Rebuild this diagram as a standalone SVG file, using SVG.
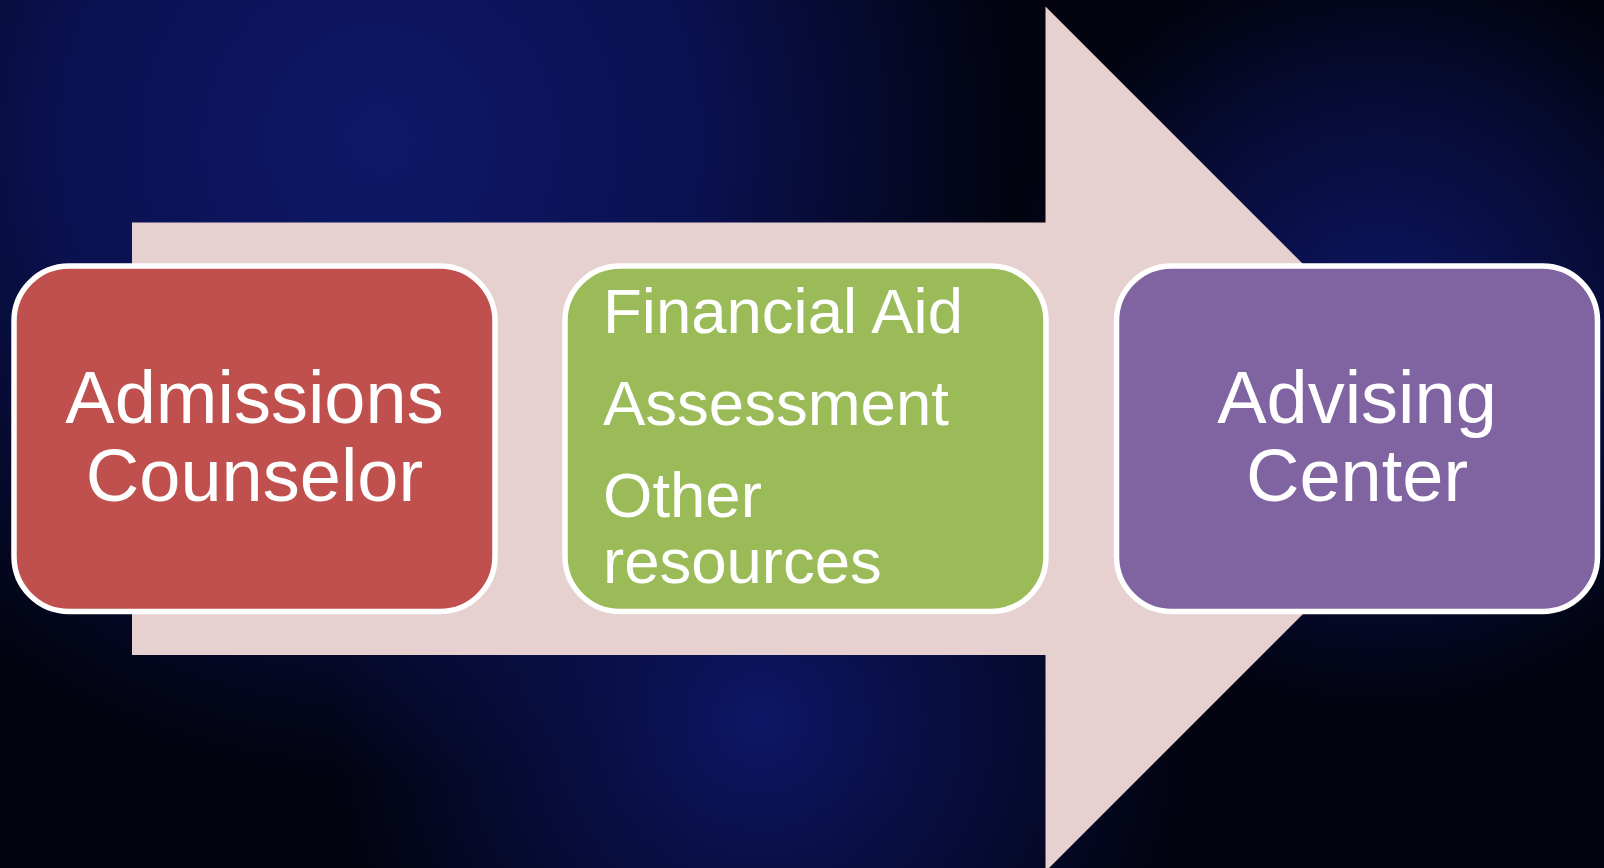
<svg xmlns="http://www.w3.org/2000/svg" width="1604" height="868" viewBox="0 0 1604 868">
<defs>
<radialGradient id="g1" cx="380" cy="140" r="640" gradientUnits="userSpaceOnUse">
<stop offset="0" stop-color="#0e1868"/><stop offset="0.5" stop-color="#0b1358" stop-opacity="0.9"/><stop offset="1" stop-color="#0b1358" stop-opacity="0"/>
</radialGradient>
<radialGradient id="g2" cx="1380" cy="330" r="380" gradientUnits="userSpaceOnUse">
<stop offset="0" stop-color="#0d1766"/><stop offset="0.55" stop-color="#0b1358" stop-opacity="0.6"/><stop offset="1" stop-color="#0b1358" stop-opacity="0"/>
</radialGradient>
<radialGradient id="g3" cx="760" cy="720" r="430" gradientUnits="userSpaceOnUse">
<stop offset="0" stop-color="#0d1766"/><stop offset="0.5" stop-color="#0b1358" stop-opacity="0.6"/><stop offset="1" stop-color="#0b1358" stop-opacity="0"/>
</radialGradient>
<style>
.box{stroke:#ffffff;stroke-width:5.5}
.t{fill:#ffffff;font-family:"Liberation Sans",Arial,sans-serif}
.c{font-size:74px;text-anchor:middle}
.l{font-size:63.5px}
</style>
</defs>
<rect width="1604" height="868" fill="#02030f"/>
<rect width="1604" height="868" fill="url(#g1)"/>
<rect width="1604" height="868" fill="url(#g2)"/>
<rect width="1604" height="868" fill="url(#g3)"/>
<g id="connectors">
<polygon points="132,222.5 1045.5,222.5 1045.5,6.5 1478,439 1045.5,871.5 1045.5,655 132,655" fill="#e7d0d0"/>
</g>
<g id="admissions">
<rect class="box" x="14" y="266" width="481" height="345.5" rx="55" fill="#c0504d"/>
<text class="t c" x="254.5" y="423">Admissions</text>
<text class="t c" x="254.5" y="501">Counselor</text>
</g>
<g id="resources">
<rect class="box" x="565" y="266" width="481" height="345.5" rx="55" fill="#9bbb59"/>
<text class="t l" x="603" y="333">Financial Aid</text>
<text class="t l" x="603" y="425">Assessment</text>
<text class="t l" x="603" y="517">Other</text>
<text class="t l" x="603" y="583">resources</text>
</g>
<g id="advising">
<rect class="box" x="1116.5" y="266" width="481" height="345.5" rx="55" fill="#8064a2"/>
<text class="t c" x="1357" y="423">Advising</text>
<text class="t c" x="1357" y="501">Center</text>
</g>
</svg>
